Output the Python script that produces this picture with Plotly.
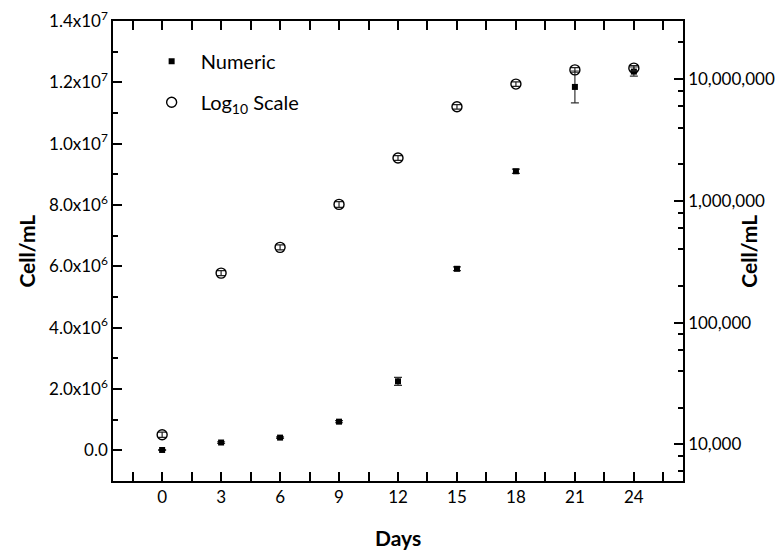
import plotly.graph_objects as go
import math

# ---- data ----
days = [0, 3, 6, 9, 12, 15, 18, 21, 24]
cells_numeric = [12000, 255000, 415000, 935000, 2250000, 5920000, 9100000, 11850000, 12350000]
cells_numeric_sd = [15000, 25000, 25000, 35000, 130000, 60000, 70000, 520000, 150000]
cells_log = [12000, 255000, 415000, 935000, 2250000, 5920000, 9100000, 11900000, 12300000]
cells_log_sd = [600, 12000, 20000, 50000, 100000, 250000, 400000, 520000, 600000]

x_tickvals = [0, 3, 6, 9, 12, 15, 18, 21, 24]
x_minorvals = [-1.5, 1.5, 4.5, 7.5, 10.5, 13.5, 16.5, 19.5, 22.5, 25.5]

left_tickvals = [0, 2e6, 4e6, 6e6, 8e6, 1e7, 1.2e7, 1.4e7]
left_ticktext = ["0.0", "2.0x10<sup>6</sup>", "4.0x10<sup>6</sup>", "6.0x10<sup>6</sup>",
                 "8.0x10<sup>6</sup>", "1.0x10<sup>7</sup>", "1.2x10<sup>7</sup>", "1.4x10<sup>7</sup>"]
left_minorvals = [1e6, 3e6, 5e6, 7e6, 9e6, 1.1e7, 1.3e7]

right_tickvals = [1e4, 1e5, 1e6, 1e7]
right_ticktext = ["10,000", "100,000", "1,000,000", "10,000,000"]
right_minorvals = [6e3, 8e3, 2e4, 4e4, 6e4, 8e4, 2e5, 4e5, 6e5, 8e5,
                   2e6, 4e6, 6e6, 8e6, 2e7]

FONT = "Lato"

fig = go.Figure()
fig.add_trace(go.Scatter(
    x=days, y=cells_numeric, mode="markers", name="Numeric",
    marker=dict(symbol="square", size=6, color="black"),
    error_y=dict(type="data", array=cells_numeric_sd, visible=True,
                 color="#333333", thickness=1.2, width=4),
    yaxis="y", legendgroup="a"))
fig.add_trace(go.Scatter(
    x=days, y=cells_log, mode="markers", name="Log<sub>10</sub> Scale",
    marker=dict(symbol="circle-open", size=10, color="black", line=dict(width=1.4, color="black")),
    error_y=dict(type="data", array=cells_log_sd, visible=True,
                 color="#222222", thickness=1.2, width=4),
    yaxis="y2", legendgroup="b"))

axis_common = dict(showline=True, linecolor="black", linewidth=1.5,
                   ticks="inside", tickcolor="black", tickwidth=1.5, ticklen=9,
                   showgrid=False, zeroline=False,
                   tickfont=dict(family=FONT, size=17, color="black"))
minor_common = dict(tickmode="array", ticks="inside", ticklen=5, tickwidth=1.5,
                    tickcolor="black", showgrid=False)

title_font = dict(family=FONT, size=21, color="black")

fig.update_layout(
    width=782, height=551,
    margin=dict(l=113, r=99, t=21, b=70, autoexpand=False),
    paper_bgcolor="white", plot_bgcolor="white",
    font=dict(family=FONT, color="black"),
    xaxis=dict(range=[-2.5, 26.5], tickmode="array", tickvals=x_tickvals,
               ticktext=[str(v) for v in x_tickvals], mirror="allticks",
               minor=dict(tickvals=x_minorvals, **minor_common),
               **axis_common),
    yaxis=dict(range=[-1e6, 1.4e7], tickmode="array", tickvals=left_tickvals,
               ticktext=left_ticktext,
               minor=dict(tickvals=left_minorvals, **minor_common),
               **axis_common),
    yaxis2=dict(type="log", overlaying="y", side="right",
                range=[math.log10(5000), math.log10(3e7)], tickmode="array",
                tickvals=right_tickvals, ticktext=right_ticktext,
                minor=dict(tickvals=right_minorvals, **minor_common),
                **axis_common),
    showlegend=True,
    legend=dict(x=0.052, y=0.955, xanchor="left", yanchor="top",
                bgcolor="rgba(0,0,0,0)", borderwidth=0,
                font=dict(family=FONT, size=20, color="black"),
                tracegroupgap=12, itemwidth=48),
    annotations=[
        dict(text="<b>Days</b>", xref="paper", yref="paper", x=0.5, y=-0.1224,
             xanchor="center", yanchor="middle", showarrow=False, font=title_font),
        dict(text="<b>Cell/mL</b>", xref="paper", yref="paper", x=-0.1534, y=0.5,
             xanchor="center", yanchor="middle", showarrow=False, textangle=-90, font=title_font),
        dict(text="<b>Cell/mL</b>", xref="paper", yref="paper", x=1.1134, y=0.5,
             xanchor="center", yanchor="middle", showarrow=False, textangle=-90, font=title_font),
    ],
)

fig.write_html("out.html")
